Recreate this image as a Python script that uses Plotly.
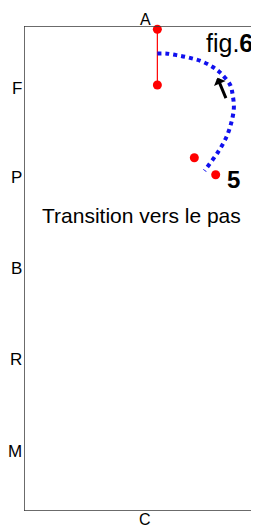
import plotly.graph_objects as go

# Arena geometry (data units: x across 0..20, y along 0 (C) .. 60 (A))
side_letters = ["F", "P", "B", "R", "M"]
side_letter_y = [52.3, 41.2, 30.0, 18.8, 7.4]
end_letters = ["A", "C"]
end_letter_y = [60, 0]
center_x = 10

# Red markers (horse positions)
red_x = [10.93, 10.93, 13.96, 15.71]
red_y = [59.6, 52.7, 43.7, 41.6]
seg_x = [10.93, 10.93]
seg_y = [59.6, 52.7]

# Blue dotted path
path_x = [10.93, 11.6, 12.5, 13.5, 14.6, 15.5, 16.1, 16.9, 17.1, 17.2, 17.0, 16.6, 15.9, 15.0, 14.8]
path_y = [56.6, 56.6, 56.4, 56.1, 55.6, 54.9, 54.2, 52.7, 51.5, 49.9, 48.1, 46.3, 44.4, 42.5, 42.1]

# Arrow (tail -> head)
arrow_tail = (16.6, 50.9)
arrow_head = (15.85, 53.6)

fig = go.Figure()

line_col = "#3a3a3a"
# Arena border
fig.add_shape(type="line", x0=0, x1=0, y0=0, y1=60, line=dict(color=line_col, width=1.5))
fig.add_shape(type="line", x0=0, x1=20, y0=60, y1=60, line=dict(color=line_col, width=1.5))
fig.add_shape(type="line", x0=0, x1=20, y0=0, y1=0, line=dict(color=line_col, width=1.5))

# tiny red letter marks
fig.add_trace(go.Scatter(x=[-0.15] * len(side_letter_y), y=side_letter_y, mode="markers",
                         marker=dict(color="red", size=3), cliponaxis=False,
                         hoverinfo="skip", showlegend=False))
fig.add_trace(go.Scatter(x=[center_x - 0.1] * 2, y=[60.4, -0.4], mode="markers",
                         marker=dict(color="red", size=3), cliponaxis=False,
                         hoverinfo="skip", showlegend=False))

# red segment
fig.add_trace(go.Scatter(x=seg_x, y=seg_y, mode="lines", line=dict(color="red", width=1.2),
                         showlegend=False, hoverinfo="skip"))
# blue path
fig.add_trace(go.Scatter(x=path_x, y=path_y, mode="lines", line=dict(color="#1010ee", width=4, dash="dot", shape="spline"),
                         showlegend=False, hoverinfo="skip"))
# red points
fig.add_trace(go.Scatter(x=red_x, y=red_y, mode="markers", marker=dict(color="red", size=9),
                         showlegend=False, hoverinfo="skip", cliponaxis=False))

font = "Liberation Sans, Arial, sans-serif"
for name, yv in zip(side_letters, side_letter_y):
    fig.add_annotation(x=0, y=yv, text=name, showarrow=False, xanchor="right", xshift=0,
                       font=dict(family=font, size=17, color="black"))
fig.add_annotation(x=center_x, y=60, text="A", showarrow=False, yanchor="bottom", xshift=-1, yshift=-4,
                   font=dict(family=font, size=16, color="black"))
fig.add_annotation(x=center_x, y=0, text="C", showarrow=False, yanchor="top", xshift=-1, yshift=2,
                   font=dict(family=font, size=16, color="black"))

fig.add_annotation(x=arrow_head[0], y=arrow_head[1], ax=arrow_tail[0], ay=arrow_tail[1],
                   xref="x", yref="y", axref="x", ayref="y", text="", showarrow=True,
                   arrowhead=1, arrowsize=0.7, arrowwidth=3, arrowcolor="black")

fig.add_annotation(x=1.0, xref="paper", y=57.9, text="fig.<b>6</b>", showarrow=False, xanchor="right",
                   xshift=-4, font=dict(family=font, size=25, color="black"))
fig.add_annotation(x=16.45, y=41.0, text="<b>5</b>", showarrow=False, xanchor="left",
                   font=dict(family=font, size=24, color="black"))
fig.add_annotation(x=1.35, y=36.6, text="Transition vers le pas", showarrow=False, xanchor="left",
                   font=dict(family=font, size=21, color="black"))

fig.update_xaxes(range=[0, 19.26], visible=False, fixedrange=True)
fig.update_yaxes(range=[0, 60], visible=False, fixedrange=True)
fig.update_layout(width=251, height=519, margin=dict(l=16, r=0, t=18, b=16),
                  plot_bgcolor="white", paper_bgcolor="white", showlegend=False)

fig.write_html("out.html", config={"displayModeBar": False},
               post_script="document.body.style.overflow='hidden';")
